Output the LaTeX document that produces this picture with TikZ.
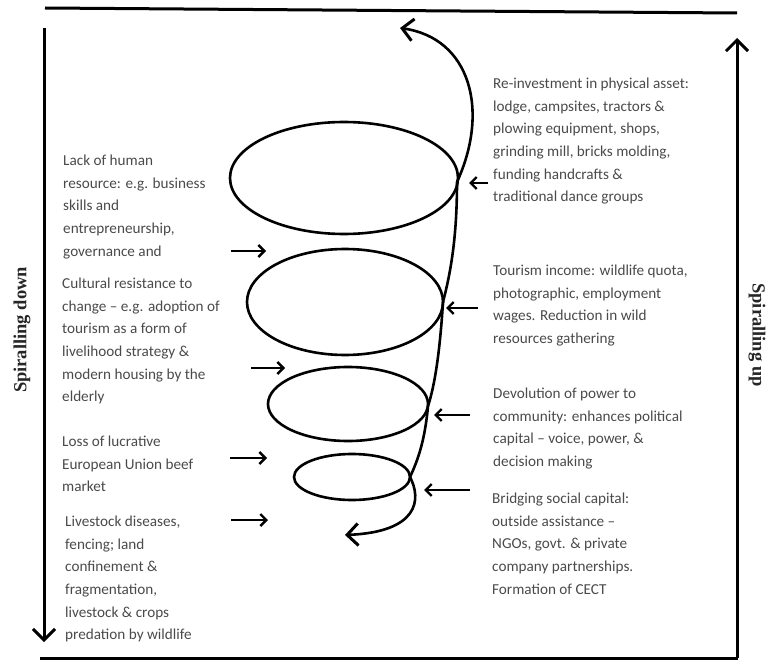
\documentclass[tikz,border=0pt]{standalone}
\usepackage{fontspec}
\setmainfont{Carlito}
\newfontfamily\lblfont{Liberation Serif}
\usetikzlibrary{arrows.meta}
\definecolor{txtgray}{HTML}{4A4A4A}
\tikzset{
  txt/.style={anchor=north west, inner sep=0pt, align=left, text=txtgray,
    font=\fontsize{15.2}{22.6}\selectfont},
  axis/.style={line width=3pt, black},
  bigtip/.style={-{Straight Barb[length=11pt,width=22pt,line width=3pt]}},
  spiral/.style={line width=2.6pt, black},
  small/.style={line width=2.4pt, -{Straight Barb[length=6pt,width=12pt,line width=2.4pt]}},
  sidelbl/.style={font=\lblfont\bfseries\fontsize{18.5}{20}\selectfont, inner sep=0pt, text=black!85}
}
\begin{document}
\begin{tikzpicture}[x=1pt,y=-1pt]
\useasboundingbox (0,0) rectangle (769,666);
% frame lines
\coordinate (tl) at (45,8);
\coordinate (tr) at (737,13);
\coordinate (bl) at (40,658);
\coordinate (br) at (738,658);
\draw[axis] (tl) -- (tr);
\draw[axis] (bl) -- (br);
% side arrows
\coordinate (ldTop) at (44,28);
\coordinate (ldBot) at (44,642);
\draw[axis,bigtip] (ldTop) -- (ldBot);
\coordinate (ruBot) at (737,658);
\coordinate (ruTop) at (737,38);
\draw[axis,bigtip] (ruBot) -- (ruTop);
\node[sidelbl, rotate=90] (sdown) at (22,330) {Spiralling down};
\node[sidelbl, rotate=-90] (sup) at (757,335) {Spiralling up};
% spiral ellipses
\draw[spiral] (344,178) ellipse [x radius=114, y radius=56];
\draw[spiral] (345,302) ellipse [x radius=98, y radius=53];
\draw[spiral] (348,404) ellipse [x radius=80, y radius=37];
\draw[spiral] (352,477) ellipse [x radius=58, y radius=23];
% spiral connections
\coordinate (r1) at (457,182);
\coordinate (r2) at (443,302);
\coordinate (r3) at (428,406);
\coordinate (r4) at (410,477);
\coordinate (topTip) at (400,28);
\coordinate (botTip) at (345,535);
\draw[spiral,bigtip] (r1) .. controls (490,110) and (470,38) .. (topTip);
\draw[spiral] (r1) .. controls (457,240) and (450,275) .. (r2);
\draw[spiral] (r2) .. controls (440,350) and (435,385) .. (r3);
\draw[spiral] (r3) .. controls (425,440) and (418,460) .. (r4);
\draw[spiral,bigtip] (r4) .. controls (422,500) and (418,532) .. (botTip);
% left small arrows
\coordinate (la1s) at (231,251); \coordinate (la1e) at (266,251);
\coordinate (la2s) at (251,368); \coordinate (la2e) at (285,368);
\coordinate (la3s) at (230,458); \coordinate (la3e) at (267,458);
\coordinate (la4s) at (231,520); \coordinate (la4e) at (268,520);
\draw[small] (la1s) -- (la1e);
\draw[small] (la2s) -- (la2e);
\draw[small] (la3s) -- (la3e);
\draw[small] (la4s) -- (la4e);
% right small arrows
\coordinate (ra1s) at (488,183); \coordinate (ra1e) at (469,183);
\coordinate (ra2s) at (478,308); \coordinate (ra2e) at (446,308);
\coordinate (ra3s) at (470,415); \coordinate (ra3e) at (434,415);
\coordinate (ra4s) at (470,490); \coordinate (ra4e) at (424,490);
\draw[small] (ra1s) -- (ra1e);
\draw[small] (ra2s) -- (ra2e);
\draw[small] (ra3s) -- (ra3e);
\draw[small] (ra4s) -- (ra4e);
% left texts
\node[txt] (t1) at (63,155) {Lack of human\\resource: e.g. business\\skills and\\entrepreneurship,\\governance and};
\node[txt] (t2) at (62,278) {Cultural resistance to\\change -- e.g. adoption of\\tourism as a form of\\livelihood strategy \&\\modern housing by the\\elderly};
\node[txt] (t3) at (62,436) {Loss of lucrative\\European Union beef\\market};
\node[txt] (t4) at (65,516) {Livestock diseases,\\fencing; land\\confinement \&\\fragmentation,\\livestock \& crops\\predation by wildlife};
% right texts
\node[txt] (r1t) at (493,78) {Re-investment in physical asset:\\lodge, campsites, tractors \&\\plowing equipment, shops,\\grinding mill, bricks molding,\\funding handcrafts \&\\traditional dance groups};
\node[txt] (r2t) at (493,265) {Tourism income: wildlife quota,\\photographic, employment\\wages. Reduction in wild\\resources gathering};
\node[txt] (r3t) at (493,388) {Devolution of power to\\community: enhances political\\capital -- voice, power, \&\\decision making};
\node[txt] (r4t) at (492,493) {Bridging social capital:\\outside assistance --\\NGOs, govt. \& private\\company partnerships.\\Formation of CECT};
\end{tikzpicture}
\end{document}
